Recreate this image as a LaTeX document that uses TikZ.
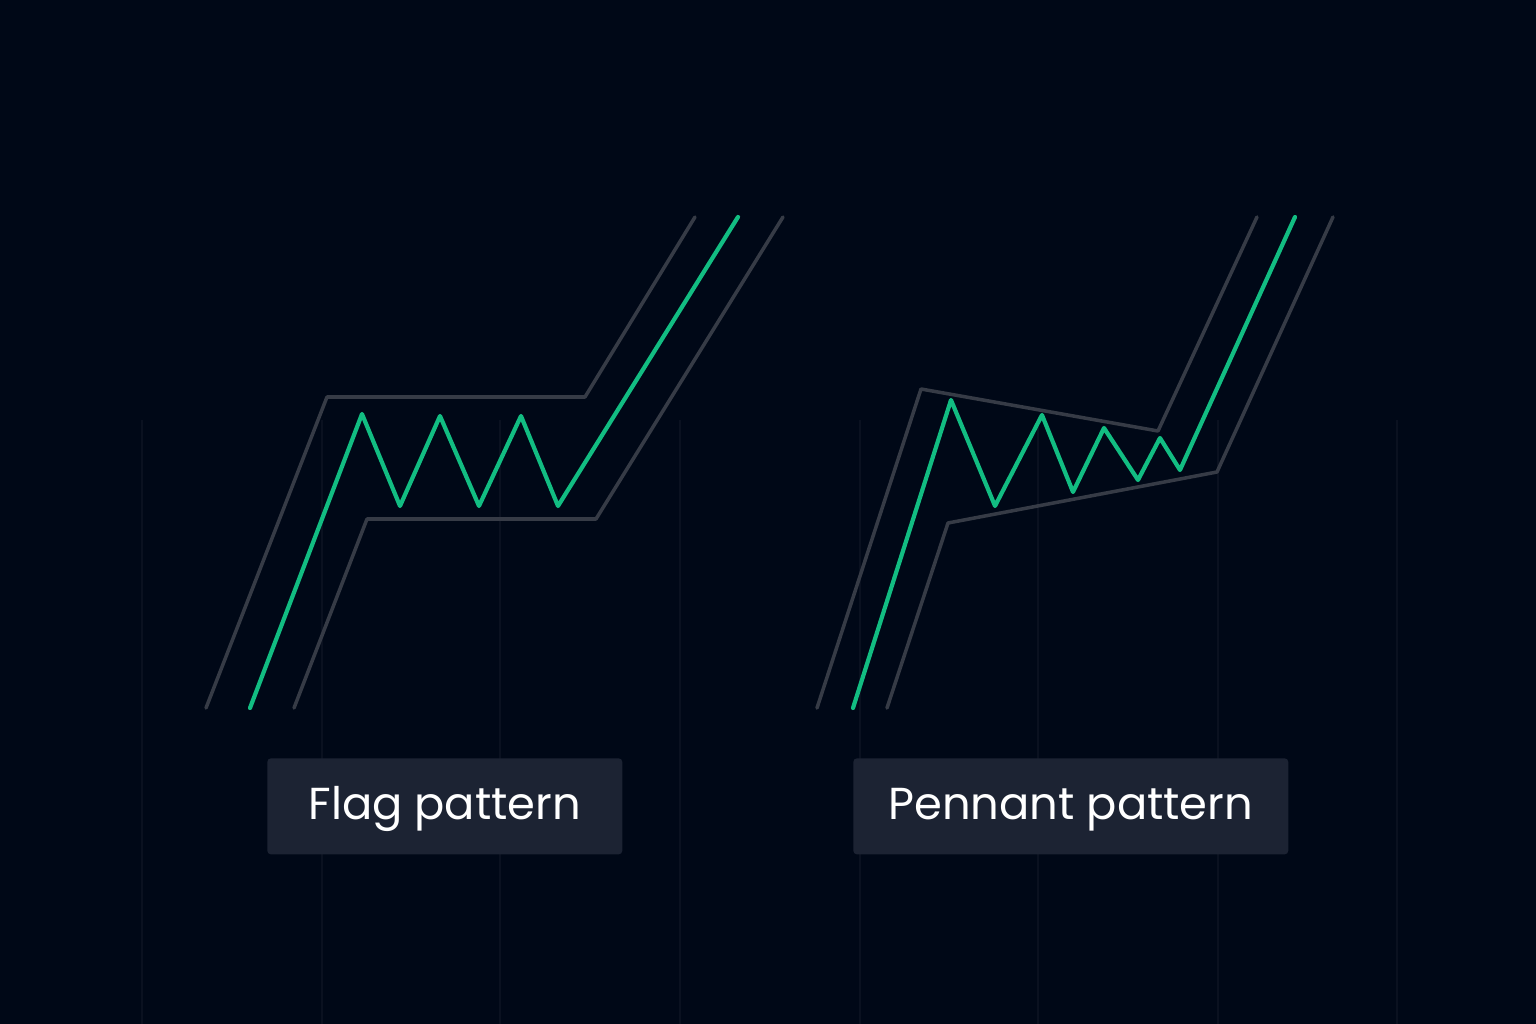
\documentclass[tikz,border=0pt]{standalone}
\usepackage{fontspec}
\setmainfont{Poppins}
\usetikzlibrary{positioning}

\definecolor{bgnavy}{HTML}{000817}
\definecolor{gridline}{HTML}{0A1120}
\definecolor{rail}{HTML}{363B46}
\definecolor{price}{HTML}{12BD82}
\definecolor{tag}{HTML}{1C2333}

\begin{document}
\begin{tikzpicture}[
        x=0.02cm, y=-0.02cm,
        grid/.style={draw=gridline, line width=0.6pt},
        railline/.style={draw=rail, line width=2pt, line cap=round, line join=round},
        priceline/.style={draw=price, line width=2.4pt, line cap=round, line join=round},
        label/.style={fill=tag, rounded corners=2pt, text=white, font=\fontsize{25.5}{30}\selectfont,
                      minimum height=1.92cm, inner xsep=0pt, text height=1.45em, text depth=0pt,
                      anchor=north west}
    ]

  % Background
  \fill[bgnavy] (0,0) rectangle (1536,1024);
  \useasboundingbox (0,0) rectangle (1536,1024);

  % Faint grid
  \foreach \gx in {142,322,500,680,860,1038,1218,1397}
    \draw[grid] (\gx,420) -- (\gx,1024);

  % Flag pattern
  \draw[railline] (206,708) -- (327,397) -- (585,397) -- (695,217);
  \draw[railline] (294,708) -- (367,519) -- (596,519) -- (783,217);
  \draw[priceline] (250,708) -- (362,414) -- (400,506) -- (440,416) -- (479,506)
                   -- (521,416) -- (558,506) -- (738,217);

  % Pennant pattern
  \draw[railline] (817,708) -- (921,389) -- (1158,431) -- (1257,217);
  \draw[railline] (887,708) -- (948,523) -- (1217,472) -- (1333,217);
  \draw[priceline] (853,708) -- (951,400) -- (995,506) -- (1042,415) -- (1073,492)
                   -- (1104,428) -- (1138,480) -- (1160,438) -- (1180,470) -- (1295,217);

  % Labels
  \node[label, minimum width=7.1cm] (flag) at (267,758) {Flag pattern};
  \node[label, minimum width=8.7cm] (pennant) at (853,758) {Pennant pattern};
\end{tikzpicture}
\end{document}
